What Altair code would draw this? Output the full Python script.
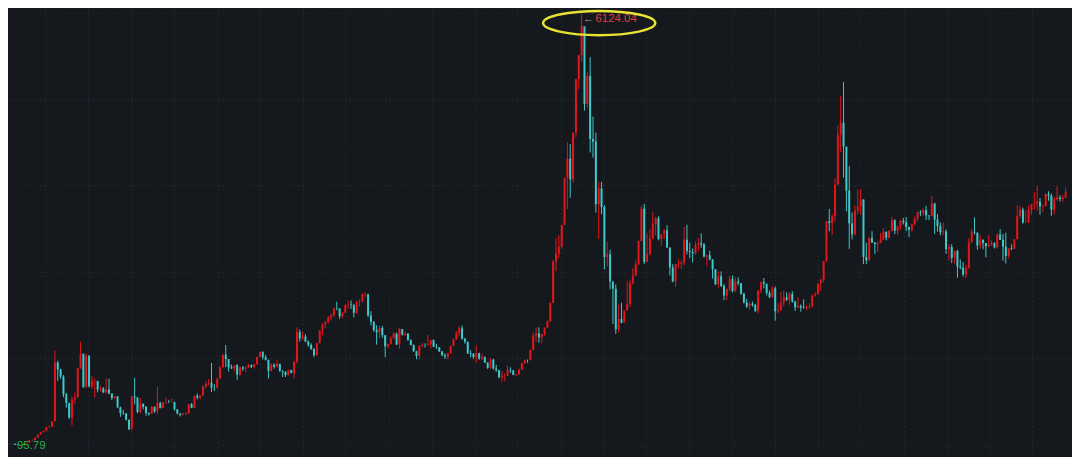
import altair as alt
import pandas as pd

# Shanghai Composite, monthly candles, Dec 1990 .. Dec 2021
first_open = 96.05
closes = [
    127.61,
    129.97, 133.01, 120.19, 113.94, 114.83, 137.56, 145.39, 180.90, 180.22, 218.60, 259.60, 292.75,
    313.24, 364.37, 370.44, 445.57, 1265.68, 1167.40, 1068.63, 822.40, 703.38, 496.94, 750.84, 780.39,
    1183.46, 1387.79, 925.91, 1358.78, 932.94, 1007.04, 1008.08, 888.57, 901.79, 850.01, 887.53, 833.80,
    770.21, 792.78, 642.54, 561.32, 556.36, 467.47, 333.92, 791.54, 778.54, 575.94, 689.22, 647.87,
    562.59, 549.26, 647.23, 585.84, 700.51, 630.58, 712.46, 717.06, 716.45, 717.24, 612.70, 555.29,
    537.35, 551.23, 557.83, 685.05, 634.12, 800.40, 776.19, 806.27, 933.82, 970.17, 982.32, 917.02,
    914.06, 1042.35, 1198.01, 1375.88, 1313.13, 1199.06, 1186.07, 1225.39, 1097.40, 1198.04, 1179.69, 1194.10,
    1232.94, 1206.54, 1243.00, 1343.44, 1411.88, 1339.20, 1303.63, 1150.00, 1236.00, 1206.00, 1246.00, 1146.70,
    1134.67, 1090.08, 1158.05, 1120.84, 1279.32, 1689.42, 1601.18, 1627.24, 1555.90, 1512.66, 1455.00, 1366.58,
    1534.99, 1714.58, 1800.22, 1836.32, 1894.55, 1928.12, 2023.00, 2021.66, 1910.16, 1961.28, 2070.61, 2073.48,
    2065.59, 1959.18, 2112.77, 2119.18, 2214.26, 2218.03, 1920.32, 1834.14, 1717.03, 1689.89, 1747.11, 1645.97,
    1491.64, 1524.73, 1603.04, 1667.97, 1515.73, 1732.78, 1653.62, 1668.41, 1581.66, 1507.61, 1420.32, 1357.65,
    1499.81, 1511.93, 1510.34, 1521.11, 1576.26, 1486.02, 1476.74, 1421.07, 1367.16, 1348.30, 1397.22, 1497.04,
    1590.73, 1675.07, 1741.62, 1595.59, 1555.91, 1399.16, 1386.20, 1342.06, 1396.70, 1320.54, 1340.77, 1266.50,
    1191.82, 1306.00, 1181.24, 1159.15, 1060.74, 1080.94, 1083.03, 1162.80, 1155.61, 1092.82, 1099.26, 1161.06,
    1258.05, 1299.03, 1298.30, 1440.22, 1641.30, 1672.21, 1612.73, 1658.64, 1752.42, 1837.99, 2099.29, 2675.47,
    2786.34, 2881.07, 3183.98, 3841.27, 4109.65, 3820.70, 4471.03, 5218.83, 5552.30, 5954.77, 4871.78, 5261.56,
    4383.39, 4348.54, 3472.71, 3693.11, 3433.35, 2736.10, 2775.72, 2397.37, 2293.78, 1728.79, 1871.16, 1820.81,
    1990.66, 2082.85, 2373.21, 2477.57, 2632.93, 2959.36, 3412.06, 2667.75, 2779.43, 2995.85, 3195.30, 3277.14,
    2989.29, 3051.94, 3109.10, 2870.61, 2592.15, 2398.37, 2637.50, 2638.80, 2655.66, 2978.83, 2820.18, 2808.08,
    2790.69, 2905.05, 2928.11, 2911.51, 2743.47, 2762.08, 2701.73, 2567.34, 2359.22, 2468.25, 2333.41, 2199.42,
    2292.61, 2428.49, 2262.79, 2396.32, 2372.23, 2225.43, 2103.63, 2047.52, 2086.17, 2068.88, 1980.12, 2269.13,
    2385.42, 2365.59, 2236.62, 2177.91, 2300.60, 1979.21, 1993.80, 2098.38, 2174.67, 2141.61, 2220.50, 2115.98,
    2033.08, 2056.30, 2033.31, 2026.36, 2039.21, 2048.33, 2201.56, 2217.20, 2363.87, 2420.18, 2682.83, 3234.68,
    3210.36, 3310.30, 3747.90, 4441.66, 4611.74, 4277.22, 3663.73, 3205.99, 3052.78, 3382.56, 3445.40, 3539.18,
    2737.60, 2687.98, 3003.92, 2938.32, 2916.62, 2929.61, 2979.34, 3085.49, 3004.70, 3100.49, 3250.03, 3103.64,
    3159.17, 3241.73, 3222.51, 3154.66, 3117.18, 3192.43, 3273.03, 3360.81, 3348.94, 3393.34, 3317.19, 3307.17,
    3480.83, 3259.41, 3168.90, 3082.23, 3095.47, 2847.42, 2876.40, 2725.25, 2821.35, 2602.78, 2588.19, 2493.90,
    2584.57, 2940.95, 3090.76, 3078.34, 2898.70, 2978.88, 2932.51, 2886.24, 2905.19, 2929.06, 2871.98, 3050.12,
    2976.53, 2880.30, 2750.30, 2860.08, 2852.35, 2984.67, 3310.01, 3395.68, 3218.05, 3224.53, 3391.76, 3473.07,
    3483.07, 3509.08, 3441.91, 3446.86, 3615.48, 3591.20, 3397.36, 3543.94, 3568.17, 3547.34, 3563.89, 3639.78,
]
highs = [
    127.61,
    135.19, 134.87, 134.86, 121.17, 115.27, 137.56, 145.50, 181.11, 190.52, 219.58, 259.60, 292.75,
    313.24, 364.37, 386.05, 445.57, 1429.01, 1289.30, 1179.89, 1090.00, 840.00, 703.00, 794.00, 845.00,
    1183.46, 1558.95, 1387.00, 1392.00, 1372.00, 1076.00, 1048.00, 1012.00, 938.00, 924.00, 1044.00, 1040.00,
    833.00, 800.00, 796.00, 650.00, 606.00, 559.00, 468.00, 791.54, 1052.94, 780.00, 767.00, 694.00,
    658.00, 571.00, 659.00, 653.00, 926.41, 720.00, 712.46, 773.00, 744.00, 766.00, 717.00, 614.00,
    555.00, 563.00, 574.00, 688.00, 702.00, 801.00, 832.00, 811.00, 935.00, 1003.00, 1034.00, 1258.69,
    965.00, 1043.00, 1224.00, 1376.00, 1510.18, 1316.00, 1238.00, 1229.00, 1245.00, 1208.00, 1216.00, 1212.00,
    1246.00, 1236.00, 1249.00, 1345.00, 1420.00, 1422.98, 1371.00, 1305.00, 1256.00, 1254.00, 1300.00, 1250.00,
    1157.00, 1143.00, 1168.00, 1166.00, 1280.00, 1756.18, 1725.00, 1701.00, 1660.00, 1573.00, 1533.00, 1469.00,
    1535.00, 1716.00, 1811.00, 1837.00, 1915.00, 1948.00, 2023.00, 2114.00, 2010.00, 1970.00, 2071.00, 2125.70,
    2131.00, 2084.00, 2125.00, 2146.00, 2233.00, 2245.43, 2224.00, 1983.00, 1842.00, 1784.00, 1776.00, 1776.00,
    1650.00, 1528.00, 1629.00, 1688.00, 1683.00, 1748.89, 1727.00, 1695.00, 1677.00, 1586.00, 1519.00, 1430.00,
    1502.00, 1537.00, 1534.00, 1649.60, 1583.00, 1589.00, 1526.00, 1480.00, 1427.00, 1392.00, 1399.00, 1501.00,
    1595.00, 1705.00, 1771.00, 1783.01, 1613.00, 1558.00, 1435.00, 1398.00, 1506.00, 1402.00, 1388.00, 1351.00,
    1268.00, 1328.00, 1316.00, 1233.00, 1164.00, 1146.00, 1113.00, 1223.00, 1197.00, 1160.00, 1106.00, 1180.00,
    1261.00, 1306.00, 1308.00, 1445.00, 1686.00, 1757.00, 1757.00, 1666.00, 1752.00, 1851.00, 2100.00, 2698.00,
    3000.00, 3040.00, 3185.00, 3842.00, 4335.96, 4311.00, 4472.00, 5219.00, 5552.00, 6124.04, 5934.00, 5323.00,
    5522.78, 4695.00, 4472.00, 3786.00, 3786.00, 3459.00, 2952.00, 2839.00, 2333.00, 2355.00, 2076.00, 2100.00,
    1992.00, 2402.00, 2412.00, 2579.00, 2688.00, 2966.00, 3454.00, 3478.01, 3068.00, 3123.00, 3361.00, 3296.00,
    3306.00, 3058.00, 3128.00, 3181.00, 2860.00, 2637.00, 2640.00, 2705.00, 2690.00, 3159.00, 3186.72, 2939.00,
    2855.00, 2951.00, 3000.00, 3067.46, 2934.00, 2769.00, 2826.00, 2708.00, 2550.00, 2536.00, 2536.00, 2360.00,
    2296.00, 2478.00, 2478.00, 2454.00, 2453.00, 2370.00, 2240.00, 2153.00, 2114.00, 2117.00, 2084.00, 2276.00,
    2395.00, 2444.80, 2334.00, 2268.00, 2334.00, 2326.00, 2092.00, 2249.00, 2270.00, 2243.00, 2250.00, 2259.00,
    2124.00, 2177.00, 2075.00, 2146.00, 2062.00, 2089.00, 2205.00, 2248.00, 2369.00, 2435.00, 2683.00, 3239.00,
    3406.79, 3336.00, 3835.00, 4572.00, 4986.00, 5178.19, 4184.00, 4006.00, 3357.00, 3459.00, 3678.00, 3684.00,
    3538.69, 2934.00, 3018.00, 3097.00, 2945.00, 2951.00, 3070.00, 3140.00, 3097.00, 3112.00, 3301.00, 3264.00,
    3174.00, 3260.00, 3282.00, 3295.00, 3159.00, 3200.00, 3301.00, 3372.00, 3391.00, 3419.00, 3450.00, 3317.00,
    3587.03, 3495.00, 3334.00, 3220.00, 3219.00, 3122.00, 2915.00, 2915.00, 2827.00, 2838.00, 2703.00, 2667.00,
    2630.00, 2997.00, 3129.00, 3288.45, 2951.00, 3048.00, 2976.00, 2923.00, 3043.00, 2966.00, 2944.00, 3063.00,
    3127.00, 3058.00, 3074.00, 2860.00, 2914.00, 2990.00, 3458.00, 3454.00, 3425.00, 3389.00, 3456.00, 3474.00,
    3637.00, 3731.69, 3560.00, 3474.00, 3625.00, 3655.00, 3621.00, 3580.00, 3723.00, 3599.00, 3596.00, 3708.00,
]
lows = [
    95.79,
    127.61, 128.79, 119.48, 104.96, 105.77, 114.81, 136.51, 145.34, 178.66, 180.52, 218.36, 259.80,
    292.76, 313.25, 353.42, 370.00, 445.00, 1010.00, 1038.00, 781.00, 636.00, 480.00, 386.85, 687.00,
    780.00, 1183.00, 910.00, 914.00, 918.00, 894.00, 777.00, 850.00, 860.00, 838.00, 829.00, 822.00,
    742.00, 758.00, 630.00, 508.00, 537.00, 456.00, 325.89, 328.00, 682.00, 557.00, 557.00, 612.00,
    524.00, 524.43, 547.00, 560.00, 543.00, 624.00, 629.00, 689.00, 700.00, 710.00, 595.00, 542.00,
    512.83, 530.00, 533.00, 554.00, 630.00, 633.00, 751.00, 753.00, 804.00, 900.00, 945.00, 855.00,
    870.00, 905.00, 1040.00, 1197.00, 1200.00, 1140.00, 1175.00, 1139.00, 1025.00, 1085.00, 1151.00, 1130.00,
    1188.00, 1189.00, 1180.00, 1234.00, 1340.00, 1310.00, 1294.00, 1043.02, 1141.00, 1180.00, 1200.00, 1136.00,
    1064.00, 1064.00, 1085.00, 1115.00, 1047.83, 1250.00, 1555.00, 1580.00, 1551.00, 1485.00, 1441.00, 1341.00,
    1361.00, 1535.00, 1646.00, 1745.00, 1810.00, 1850.00, 1897.00, 1994.00, 1874.00, 1886.00, 1957.00, 2017.00,
    2011.00, 1893.00, 1946.00, 2046.00, 2108.00, 2172.00, 1898.00, 1784.00, 1693.00, 1514.86, 1609.00, 1610.00,
    1339.20, 1466.00, 1518.00, 1596.00, 1511.00, 1455.00, 1641.00, 1636.00, 1569.00, 1507.00, 1416.00, 1311.00,
    1311.00, 1478.00, 1474.00, 1502.00, 1464.00, 1481.00, 1456.00, 1412.00, 1354.00, 1316.00, 1307.40, 1384.00,
    1495.00, 1584.00, 1628.00, 1585.00, 1528.00, 1382.00, 1338.00, 1313.00, 1259.00, 1303.00, 1301.00, 1259.00,
    1177.00, 1176.00, 1168.00, 1136.00, 1044.00, 998.23, 1004.00, 1077.00, 1120.00, 1089.00, 1074.00, 1096.00,
    1161.00, 1246.00, 1263.00, 1294.00, 1440.00, 1552.00, 1541.00, 1535.00, 1638.00, 1746.00, 1837.00, 2094.00,
    2541.00, 2722.00, 2856.00, 3204.00, 3404.00, 3563.00, 3776.00, 4406.00, 5081.00, 5462.00, 4778.00, 4812.00,
    4195.00, 4123.00, 3357.00, 2990.00, 3333.00, 2567.00, 2605.00, 2284.00, 1802.00, 1664.93, 1678.00, 1814.00,
    1844.00, 2037.00, 2037.00, 2355.00, 2472.00, 2629.00, 2960.00, 2639.00, 2712.00, 2761.00, 2983.00, 3039.00,
    2969.00, 2890.00, 2989.00, 2861.00, 2481.00, 2382.00, 2319.74, 2579.00, 2573.00, 2619.00, 2774.00, 2721.00,
    2661.00, 2767.00, 2823.00, 2867.00, 2729.00, 2610.00, 2690.00, 2437.00, 2344.00, 2307.00, 2319.00, 2134.00,
    2132.00, 2257.00, 2242.00, 2251.00, 2340.00, 2210.00, 2089.00, 2024.00, 1999.00, 2045.00, 1974.00, 1949.46,
    2233.00, 2300.00, 2202.00, 2161.00, 2166.00, 1849.65, 1951.00, 1993.00, 2050.00, 2122.00, 2073.00, 2100.00,
    1984.00, 2023.00, 1974.00, 2014.00, 1991.00, 2010.00, 2028.00, 2181.00, 2211.00, 2269.00, 2384.00, 2668.00,
    3095.00, 3049.00, 3233.00, 3742.00, 4198.00, 3847.00, 3373.00, 2850.71, 2983.00, 3039.00, 3327.00, 3327.00,
    2638.30, 2638.00, 2734.00, 2934.00, 2780.00, 2808.00, 2953.00, 2970.00, 2969.00, 2994.00, 3093.00, 3056.00,
    3044.00, 3121.00, 3191.00, 3098.00, 3016.00, 3091.00, 3176.00, 3233.00, 3306.00, 3310.00, 3254.00, 3254.00,
    3307.00, 3062.00, 3091.00, 3041.00, 3041.00, 2782.00, 2691.00, 2653.00, 2644.00, 2449.00, 2566.00, 2462.00,
    2440.91, 2574.00, 2964.00, 3050.00, 2838.00, 2854.00, 2844.00, 2733.00, 2874.00, 2891.00, 2856.00, 2857.00,
    2975.00, 2685.00, 2646.81, 2719.00, 2833.00, 2847.00, 3026.00, 3284.00, 3202.00, 3219.00, 3208.00, 3325.00,
    3400.00, 3381.00, 3328.00, 3359.00, 3443.00, 3522.00, 3312.00, 3332.00, 3521.00, 3512.00, 3509.00, 3560.00,
]

peak_label = "6124.04"
low_label = "95.79"

n = len(closes)
opens = [first_open] + closes[:-1]
df = pd.DataFrame({
    "i": list(range(n)),
    "open": opens,
    "close": closes,
    "high": highs,
    "low": lows,
})
df["dir"] = ["up" if c >= o else "down" for o, c in zip(opens, closes)]

peak_i = highs.index(max(highs))
low_i = lows.index(min(lows))
ann_peak = pd.DataFrame({"i": [peak_i], "v": [max(highs)], "t": [peak_label]})
ann_low = pd.DataFrame({"i": [low_i], "v": [min(lows)], "t": [low_label]})

BG = "#15181d"
RED = "#e3161c"
CYAN = "#3fc9c9"
GRID = "#2f343c"

# the page margin hides the first 8px on the left/top, so the domains start there
y_dom = [-28.8, 6186.4]
x_dom = [2.263, n - 0.5]
grid_y = [116.6 + 1205.7 * k for k in range(6)]
grid_x = [13.66 + 15.075 * k for k in range(24)]

xs = alt.Scale(domain=x_dom, nice=False, zero=False)
ys = alt.Scale(domain=y_dom, nice=False, zero=False)

x_enc = alt.X("i:Q", scale=xs,
              axis=alt.Axis(values=grid_x, grid=True, gridDash=[1, 3], gridColor=GRID,
                            gridWidth=1, labels=False, ticks=False, domain=False, title=None))
y_axis = alt.Axis(values=grid_y, grid=True, gridDash=[1, 3], gridColor=GRID, gridWidth=1,
                  labels=False, ticks=False, domain=False, title=None)

color = alt.Color("dir:N", scale=alt.Scale(domain=["up", "down"], range=[RED, CYAN]), legend=None)

base = alt.Chart(df)
wicks = base.mark_rule(strokeWidth=1).encode(
    x=x_enc,
    y=alt.Y("low:Q", scale=ys, axis=y_axis),
    y2="high:Q",
    color=color,
)
bodies = base.mark_bar(size=2).encode(
    x=alt.X("i:Q", scale=xs),
    y=alt.Y("open:Q", scale=ys),
    y2="close:Q",
    color=color,
)

peak_arrow = alt.Chart(ann_peak).mark_text(text="←", color="#9aa0a8", fontSize=11, dx=7, dy=5,
                                           align="center", baseline="middle").encode(
    x=alt.X("i:Q", scale=xs), y=alt.Y("v:Q", scale=ys))
peak_text = alt.Chart(ann_peak).mark_text(color="#e8383c", fontSize=11.5, dx=14, dy=5,
                                          align="left", baseline="middle", font="Arial").encode(
    x=alt.X("i:Q", scale=xs), y=alt.Y("v:Q", scale=ys), text="t:N")
ellipse = alt.Chart(ann_peak).mark_point(
    shape="M-1,0A1,0.215,0,1,0,1,0A1,0.215,0,1,0,-1,0Z",
    size=12769, filled=False, stroke="#e9e333", strokeWidth=2.5, opacity=1,
    xOffset=17.7, yOffset=9,
).encode(x=alt.X("i:Q", scale=xs), y=alt.Y("v:Q", scale=ys))

low_text = alt.Chart(ann_low).mark_text(color="#25b24a", fontSize=11.5, dx=10.5, dy=0,
                                        align="left", baseline="middle", font="Arial").encode(
    x=alt.X("i:Q", scale=xs), y=alt.Y("v:Q", scale=ys), text="t:N")

chart = alt.layer(wicks, bodies, peak_arrow, peak_text, ellipse, low_text).properties(
    width=1072, height=449, padding=0,
    autosize=alt.AutoSizeParams(type="none"),
    background=BG,
).configure_view(stroke=None)

chart.save("out.html", embed_options={"renderer": "svg", "actions": False})
